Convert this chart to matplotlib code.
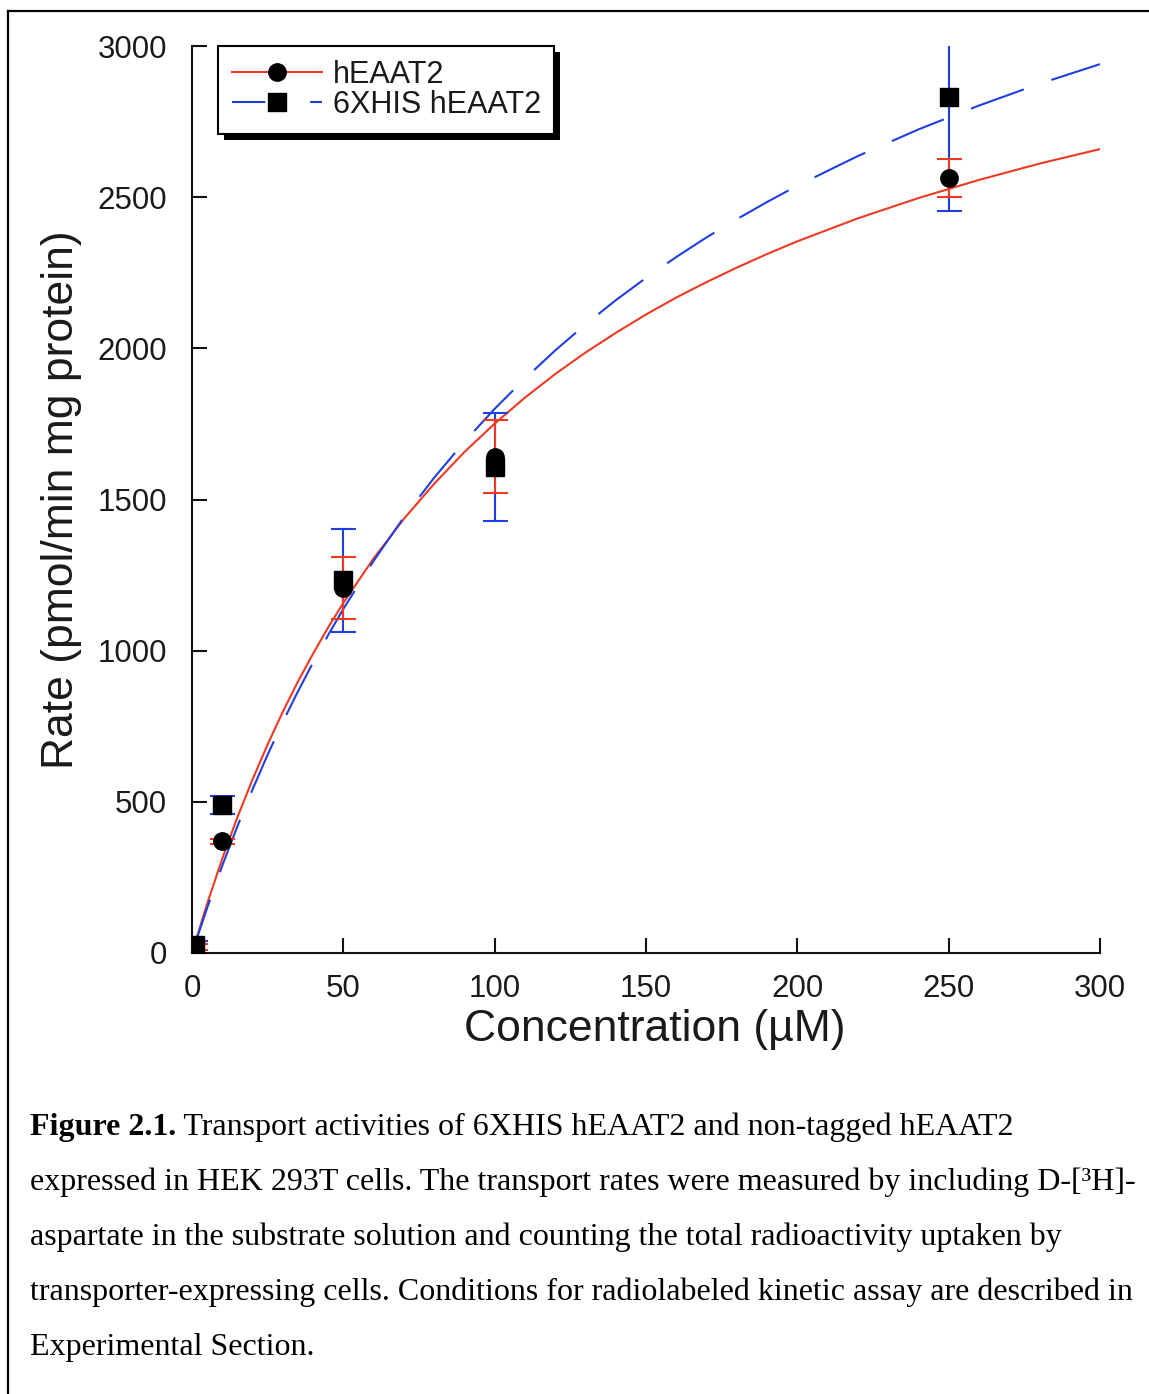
import matplotlib
matplotlib.use("Agg")
import matplotlib.pyplot as plt
from matplotlib.lines import Line2D
from matplotlib.patches import Rectangle
from matplotlib.transforms import IdentityTransform

plt.rcParams['font.family'] = ['Liberation Sans', 'DejaVu Sans']

# measured points (uM, pmol/min mg protein)
conc = [1, 10, 50, 100, 250]
heaat2 = [20, 370, 1207, 1641, 2563]
heaat2_err = [10, 8, 102, 121, 62]
his_heaat2 = [26, 490, 1233, 1607, 2830]
his_err = [15, 30, 170, 178, 376]

# fitted curves
fit_x = [0, 5, 10, 15, 20, 25, 30, 35, 40, 45, 50, 60, 70, 80, 90, 100, 110, 120, 130, 140, 150,
         160, 170, 180, 190, 200, 220, 240, 260, 280, 300]
fit_heaat2 = [0, 163, 312, 449, 574, 690, 798, 898, 990, 1077, 1158, 1305, 1436, 1552, 1657, 1751,
              1837, 1915, 1986, 2051, 2112, 2168, 2219, 2267, 2312, 2354, 2430, 2497, 2557, 2611, 2659]
fit_his = [0, 149, 289, 419, 541, 656, 764, 865, 961, 1052, 1138, 1297, 1441, 1572, 1691, 1800,
           1900, 1993, 2079, 2159, 2233, 2302, 2367, 2427, 2484, 2538, 2636, 2724, 2803, 2875, 2940]

x_ticks = [0, 50, 100, 150, 200, 250, 300]
y_ticks = [0, 500, 1000, 1500, 2000, 2500, 3000]

caption_bold = "Figure 2.1."
caption_lines = [
    " Transport activities of 6XHIS hEAAT2 and non-tagged hEAAT2",
    "expressed in HEK 293T cells. The transport rates were measured by including D-[\u00b3H]-",
    "aspartate in the substrate solution and counting the total radioactivity uptaken by",
    "transporter-expressing cells. Conditions for radiolabeled kinetic assay are described in",
    "Experimental Section.",
]

red = '#ee3a22'
blue = '#1f3fe0'
txt = '#1a1a1a'

W, H = 1149, 1394
fig = plt.figure(figsize=(W / 100, H / 100), dpi=100)
ax = fig.add_axes([192 / W, (H - 953) / H, 908 / W, 907 / H])

ax.plot(fit_x, fit_heaat2, color=red, lw=1.5, zorder=2)
ax.plot(fit_x, fit_his, color=blue, lw=1.5, dashes=[27, 14], zorder=2)

ax.errorbar(conc, his_heaat2, yerr=his_err, fmt='none', ecolor=blue, elinewidth=1.5,
            capsize=9, capthick=1.5, zorder=3)
ax.errorbar(conc, heaat2, yerr=heaat2_err, fmt='none', ecolor=red, elinewidth=1.5,
            capsize=9, capthick=1.5, zorder=3)
ax.plot(conc, his_heaat2, 's', color='k', ms=12.5, zorder=4)
ax.plot(conc, heaat2, 'o', color='k', ms=12.5, zorder=4)

ax.set_xlim(0, 300)
ax.set_ylim(0, 3000)
ax.set_xticks(x_ticks)
ax.set_yticks(y_ticks)
for s in ['top', 'right']:
    ax.spines[s].set_visible(False)
for s in ['left', 'bottom']:
    ax.spines[s].set_linewidth(1.5)
    ax.spines[s].set_color('#111111')
ax.tick_params(direction='in', length=11, width=1.5, color='#111111', labelsize=22.5, labelcolor=txt)
ax.tick_params(axis='x', pad=15)
ax.tick_params(axis='y', pad=18)

ax.set_xlabel("Concentration (\u00b5M)", fontsize=32, color=txt, va='center')
ax.xaxis.set_label_coords((655 - 192) / 908, (953 - 1030) / 907)
ax.set_ylabel("Rate (pmol/min mg protein)", fontsize=32, color=txt, va='center')
ax.yaxis.set_label_coords((62 - 192) / 908, 0.5)

handles = [
    Line2D([], [], color=red, lw=1.5, marker='o', mfc='k', mec='k', ms=12.5),
    Line2D([], [], color=blue, lw=1.5, dashes=[16, 21.5], marker='s', mfc='k', mec='k', ms=12.5),
]
leg = ax.legend(handles, ["hEAAT2", "6XHIS hEAAT2"], loc='upper left', bbox_to_anchor=(26 / 908, 1.0),
                borderaxespad=0, fontsize=22, labelspacing=0, handlelength=2.95,
                handletextpad=0.35, borderpad=0.45, fancybox=False, framealpha=1, edgecolor='k',
                numpoints=1)
leg.get_frame().set_linewidth(1.5)
for t in leg.get_texts():
    t.set_color(txt)

# black drop shadow behind the legend box
fig.canvas.draw()
bb = leg.get_window_extent()
shadow = Rectangle((bb.x0 + 6, bb.y0 - 6), bb.width, bb.height, transform=IdentityTransform(),
                   facecolor='k', edgecolor='none', zorder=4.99, clip_on=False)
ax.add_artist(shadow)

# frame lines of the figure page
fig.add_artist(Line2D([8 / W, 1], [1 - 11 / H, 1 - 11 / H], transform=fig.transFigure, color='k', lw=1.6))
fig.add_artist(Line2D([8 / W, 8 / W], [1 - 11 / H, 0], transform=fig.transFigure, color='k', lw=1.6))

# caption
serif = ['Liberation Serif', 'DejaVu Serif']
fs = 23.0
baselines = [1135, 1190, 1245, 1300, 1355]
t0 = fig.text(30 / W, 1 - baselines[0] / H, caption_bold, fontsize=fs, fontweight='bold',
              family=serif, va='baseline', ha='left')
fig.canvas.draw()
x_after = t0.get_window_extent().x1 / W
fig.text(x_after, 1 - baselines[0] / H, caption_lines[0], fontsize=fs, family=serif,
         va='baseline', ha='left')
for line, b in zip(caption_lines[1:], baselines[1:]):
    fig.text(30 / W, 1 - b / H, line, fontsize=fs, family=serif, va='baseline', ha='left')

fig.savefig("out.png", dpi=100)
